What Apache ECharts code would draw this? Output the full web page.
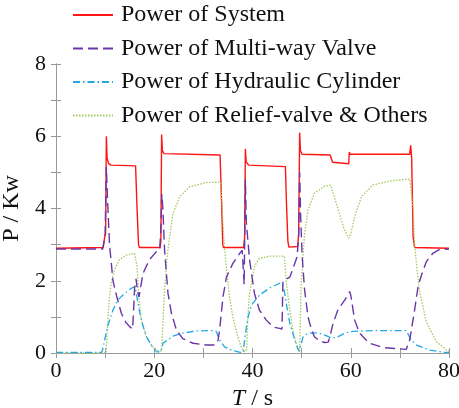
<!DOCTYPE html>
<html>
<head>
<meta charset="utf-8">
<script src="https://cdn.jsdelivr.net/npm/echarts@6/dist/echarts.min.js"></script>
<style>
  html, body { margin: 0; padding: 0; background: #fff; }
  #chart { width: 459px; height: 408px; }
</style>
</head>
<body>
<div id="chart"></div>
<script>
// Series names shown in the legend
const seriesNames = [
  'Power of System',
  'Power of Multi-way Valve',
  'Power of Hydraulic Cylinder',
  'Power of Relief-valve & Others'
];

// Axis tick labels
const xTickLabels = [0, 20, 40, 60, 80];
const yTickLabels = [0, 2, 4, 6, 8];

// [time (s), power (kW)] samples for each curve
const systemPower = [
  [0, 2.9], [9.6, 2.92], [9.9, 3.2], [10.1, 3.3], [10.25, 6.0], [10.4, 5.4], [10.7, 5.25], [11.2, 5.2],
  [16.2, 5.18], [16.5, 4.0], [16.8, 3.0], [17.0, 2.92], [21.2, 2.92], [21.35, 3.1], [21.5, 6.05],
  [21.65, 5.6], [22.0, 5.52], [33.4, 5.48], [33.7, 4.2], [33.95, 3.0], [34.1, 2.92], [38.2, 2.92],
  [38.4, 3.2], [38.55, 5.65], [38.7, 5.3], [39.2, 5.2], [46.7, 5.16], [46.9, 4.2], [47.2, 3.1],
  [47.4, 2.93], [49.2, 2.95], [49.4, 3.3], [49.6, 6.1], [49.75, 5.6], [50.1, 5.5], [55.8, 5.48],
  [56.3, 5.28], [56.7, 5.24], [59.6, 5.24], [59.7, 5.56], [59.9, 5.5], [72.0, 5.5], [72.2, 5.75],
  [72.4, 5.4], [72.7, 3.2], [73.0, 2.92], [80, 2.9]
];

const valvePower = [
  [0, 2.88], [9.5, 2.88], [9.8, 3.1], [10.0, 3.3], [10.25, 5.15], [10.5, 4.2], [10.9, 3.0],
  [11.6, 2.0], [12.3, 1.6], [13.3, 1.1], [14.2, 0.85], [15.0, 0.73], [15.6, 0.66], [15.8, 1.2],
  [16.0, 1.8], [16.3, 2.05], [16.6, 1.7], [16.9, 1.55], [17.7, 2.2], [19.0, 2.58], [20.4, 2.8],
  [21.1, 2.85], [21.3, 3.3], [21.55, 4.4], [21.75, 4.0], [22.1, 2.85], [22.8, 1.65], [23.5, 1.1],
  [24.5, 0.64], [25.8, 0.4], [27.9, 0.27], [30.6, 0.22], [32.3, 0.22], [32.8, 0.3], [33.0, 0.36],
  [33.3, 0.64], [34.0, 1.56], [34.7, 2.1], [36.0, 2.48], [37.4, 2.76], [37.9, 2.84], [38.1, 2.82],
  [38.3, 1.9], [38.55, 4.8], [38.75, 3.6], [39.4, 2.58], [40.4, 1.65], [41.4, 1.19], [42.8, 0.91],
  [44.2, 0.72], [45.5, 0.68], [46.0, 0.66], [46.2, 2.0], [47.6, 2.1], [48.6, 2.48], [49.1, 2.67],
  [49.4, 3.3], [49.6, 5.0], [49.8, 3.8], [50.1, 2.7], [50.6, 1.75], [51.3, 1.0], [52.0, 0.65],
  [52.6, 0.45], [53.7, 0.33], [54.7, 0.29], [55.4, 0.3], [55.7, 0.42], [56.4, 0.82], [57.4, 1.2],
  [58.8, 1.47], [59.8, 1.7], [60.0, 1.6], [60.8, 0.91], [61.8, 0.55], [63.8, 0.27], [66.6, 0.15],
  [71.3, 0.1], [71.7, 0.08], [72.0, 0.36], [73.0, 1.19], [73.7, 1.84], [74.4, 2.16], [75.4, 2.53],
  [76.7, 2.76], [78, 2.86], [80, 2.88]
];

const cylinderPower = [
  [0, 0.02], [9.3, 0.02], [9.6, 0.15], [9.9, 0.36], [10.5, 0.73], [11.6, 1.19], [12.6, 1.47],
  [14.0, 1.65], [15.3, 1.79], [16.1, 1.84], [16.4, 1.6], [17.0, 1.15], [17.7, 0.75], [18.4, 0.45],
  [19.7, 0.15], [20.5, 0.03], [21.3, 0.03], [21.8, 0.27], [23.8, 0.47], [25.8, 0.55], [28.5, 0.61],
  [31.9, 0.62], [32.6, 0.6], [33.3, 0.36], [34.3, 0.17], [35.7, 0.08], [37.5, 0.02], [38.1, 0.02],
  [38.4, 0.36], [39.0, 0.95], [39.8, 1.33], [41.4, 1.6], [43.5, 1.8], [45.5, 1.93], [46.1, 1.9],
  [46.5, 1.7], [46.9, 1.35], [47.6, 0.82], [48.6, 0.36], [49.2, 0.12], [49.5, 0.05], [50.3, 0.45],
  [51.3, 0.55], [53.3, 0.56], [55.0, 0.48], [56.0, 0.42], [57.1, 0.43], [58.8, 0.55], [60.4, 0.6],
  [64.5, 0.62], [71.3, 0.62], [72.3, 0.36], [73.4, 0.22], [76.1, 0.08], [78.8, 0.02], [80, 0.02]
];

const reliefPower = [
  [0, 0], [10.2, 0], [10.5, 0.8], [10.8, 1.4], [11.2, 1.93], [11.9, 2.3], [12.9, 2.58], [14.3, 2.71],
  [16.0, 2.76], [16.3, 2.74], [16.5, 2.4], [16.9, 1.47], [17.4, 0.91], [18.4, 0.45], [19.7, 0.17],
  [21.0, 0.05], [21.5, 0.05], [22.0, 1.5], [22.5, 2.5], [23.0, 3.1], [23.8, 3.85], [25.2, 4.33],
  [27.2, 4.6], [30.6, 4.72], [33.5, 4.73], [33.9, 3.8], [34.3, 2.9], [35.3, 1.56], [36.0, 1.0],
  [37.0, 0.45], [37.7, 0.17], [38.4, 0.03], [38.8, 0.1], [39.1, 1.1], [39.4, 1.65], [40.4, 2.4],
  [41.4, 2.62], [43.5, 2.68], [46.5, 2.68], [46.9, 1.93], [47.6, 1.19], [48.2, 0.64], [48.9, 0.27],
  [49.6, 0.05], [49.9, 1.9], [50.6, 3.3], [51.3, 3.96], [52.6, 4.42], [54.7, 4.62], [55.9, 4.65],
  [56.7, 4.3], [57.7, 3.85], [58.6, 3.45], [59.6, 3.18], [60.0, 3.3], [60.8, 3.78], [62.2, 4.33],
  [64.5, 4.65], [67.9, 4.76], [72.0, 4.82], [72.3, 4.85], [72.7, 4.0], [73.0, 3.0], [73.5, 2.3],
  [74.0, 1.7], [75.4, 0.85], [77.4, 0.32], [79.5, 0.08], [80, 0.05]
];

const serif = '"Liberation Serif", "Times New Roman", serif';
const frameColor = '#9a9a9a';

const chart = echarts.init(document.getElementById('chart'), null, { renderer: 'canvas' });

function frameAxis(extra) {
  return Object.assign({
    axisLine: { show: true, lineStyle: { color: frameColor, width: 1 } },
    axisTick: { show: true, inside: true, length: 5, lineStyle: { color: frameColor } },
    splitLine: { show: false }
  }, extra);
}

const option = {
  animation: false,
  backgroundColor: '#ffffff',
  grid: { left: 56, right: 10, top: 64, bottom: 55, containLabel: false, outerBoundsMode: 'none' },
  legend: {
    orient: 'vertical',
    left: 72,
    top: 3,
    padding: 0,
    itemWidth: 40,
    itemHeight: 14,
    itemGap: 9.5,
    // keep only the line in each legend key, no marker dot
    itemStyle: { opacity: 0 },
    textStyle: { fontFamily: serif, fontSize: 24, color: '#111', lineHeight: 24, padding: [0, 0, 0, 3] },
    data: seriesNames
  },
  xAxis: [
    frameAxis({
      type: 'value', min: 0, max: 80, interval: 10, position: 'bottom',
      axisLabel: {
        fontFamily: serif, fontSize: 22, color: '#111', margin: 7,
        formatter: v => (xTickLabels.indexOf(v) >= 0 ? String(v) : '')
      },
      name: '{i|T} / s',
      nameLocation: 'middle',
      nameGap: 25,
      nameTextStyle: {
        fontFamily: serif, fontSize: 24, color: '#111', verticalAlign: 'top',
        rich: { i: { fontFamily: serif, fontSize: 24, fontStyle: 'italic', color: '#111' } }
      }
    }),
    frameAxis({
      type: 'value', min: 0, max: 80, interval: 10, position: 'top',
      axisLabel: { show: false }
    })
  ],
  yAxis: [
    frameAxis({
      type: 'value', min: 0, max: 8, interval: 1, position: 'left',
      axisLabel: {
        fontFamily: serif, fontSize: 22, color: '#111', margin: 10,
        formatter: v => (yTickLabels.indexOf(v) >= 0 ? String(v) : '')
      },
      name: 'P / Kw',
      nameLocation: 'middle',
      nameGap: 30,
      nameTextStyle: { fontFamily: serif, fontSize: 24, color: '#111' }
    }),
    frameAxis({
      type: 'value', min: 0, max: 8, interval: 1, position: 'right',
      axisLabel: { show: false }
    })
  ],
  series: [
    {
      name: seriesNames[0], type: 'line', data: systemPower, showSymbol: false, symbol: 'none',
      lineStyle: { color: '#ff1414', width: 1.4, type: 'solid' }, itemStyle: { color: '#ff1414' }, z: 2
    },
    {
      name: seriesNames[3], type: 'line', data: reliefPower, showSymbol: false, symbol: 'none',
      lineStyle: { color: '#a3c95e', width: 1.3, type: [1.5, 1.5] }, itemStyle: { color: '#a3c95e' }, z: 3
    },
    {
      name: seriesNames[2], type: 'line', data: cylinderPower, showSymbol: false, symbol: 'none',
      lineStyle: { color: '#22a9e4', width: 1.3, type: [7, 3, 1.5, 3] }, itemStyle: { color: '#22a9e4' }, z: 4
    },
    {
      name: seriesNames[1], type: 'line', data: valvePower, showSymbol: false, symbol: 'none',
      lineStyle: { color: '#6a35a6', width: 1.4, type: [10, 5] }, itemStyle: { color: '#6a35a6' }, z: 5
    }
  ]
};

chart.setOption(option);
</script>
</body>
</html>
